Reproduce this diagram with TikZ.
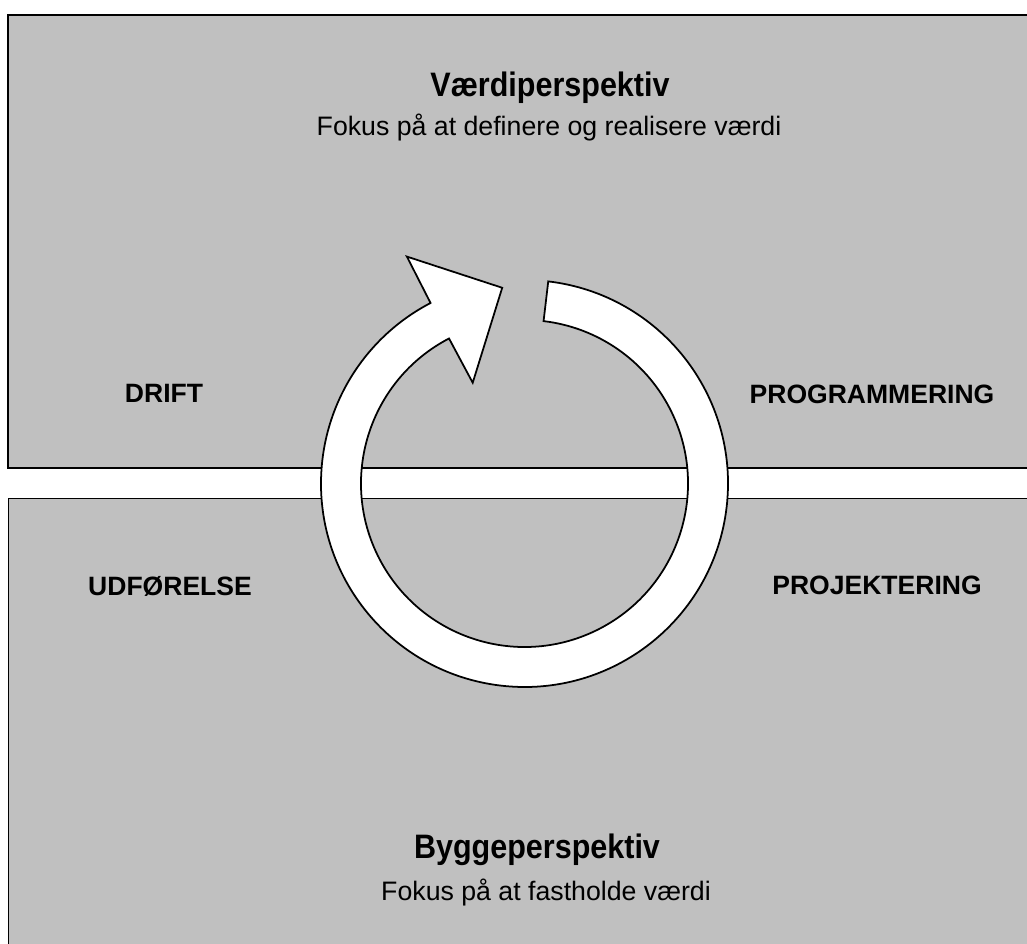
\documentclass[tikz,border=0pt]{standalone}
\usepackage{fontspec}
\setmainfont{Liberation Sans}
\newfontfamily\titlefont[FakeStretch=0.9]{Liberation Sans}
\definecolor{panelgray}{RGB}{192,192,192}
\begin{document}
\begin{tikzpicture}[
		x=0.02cm, y=0.02cm,
		line width=1.1pt,
		panel/.style={draw=black, fill=panelgray},
		ring/.style={draw=black, fill=white, line width=1pt, line join=miter},
		title/.style={anchor=base, font=\titlefont\fontsize{19.3}{22}\selectfont\bfseries},
		subtitle/.style={anchor=base, font=\fontsize{15.2}{18}\selectfont},
		phase/.style={anchor=base, font=\fontsize{15.1}{18}\selectfont\bfseries}
		]
	\useasboundingbox (0, 0) rectangle (1027, 943);
	
	% Panels
	\draw[panel] (8.3, 928) rectangle (1040, 475);
	\draw[panel] (8.5, 444.5) rectangle (1040, -20);
	
	% Cycle arrow
	\coordinate (c) at (524.5, 459.5);
	\draw[ring] ([shift={(83.3:203.5)}]c) arc[start angle=83.3, end angle=-242.5, radius=203.5]
		-- ([shift={(117.4:255.6)}]c) -- ([shift={(96.5:197)}]c) -- ([shift={(117.2:113.3)}]c)
		-- ([shift={(117.5:163.5)}]c) arc[start angle=117.5, end angle=443.3, radius=163.5] -- cycle;
	
	% Top: value perspective
	\node[title] (vtitle) at (550, 846) {Værdiperspektiv};
	\node[subtitle] (vsub) at (549, 807) {Fokus på at definere og realisere værdi};
	\node[phase] (drift) at (164, 540) {DRIFT};
	\node[phase] (prog) at (872, 539) {PROGRAMMERING};
	
	% Bottom: building perspective
	\node[phase] (udf) at (170, 347) {UDFØRELSE};
	\node[phase] (proj) at (877, 348) {PROJEKTERING};
	\node[title] (btitle) at (537, 85) {Byggeperspektiv};
	\node[subtitle] (bsub) at (546, 43) {Fokus på at fastholde værdi};
	
\end{tikzpicture}
\end{document}
